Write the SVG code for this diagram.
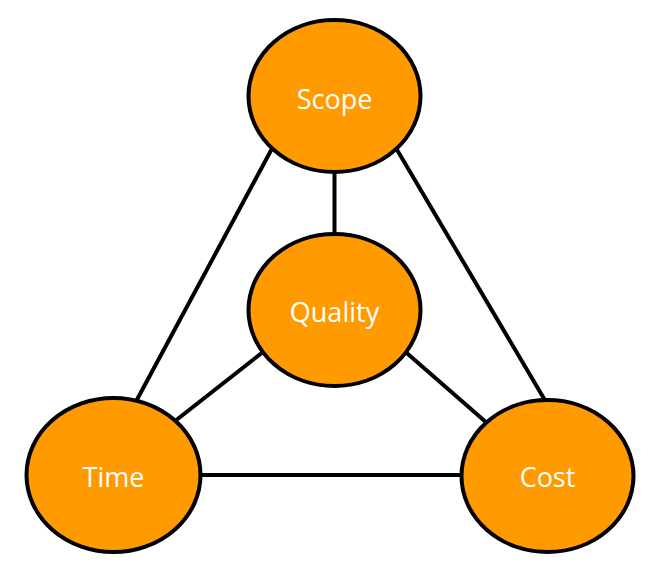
<svg xmlns="http://www.w3.org/2000/svg" width="658" height="569" viewBox="0 0 658 569">
<style>
.n ellipse{fill:#FF9A00;stroke:#000;stroke-width:4}
.n text{fill:#fff;font-family:"Open Sans","Liberation Sans",sans-serif;font-size:27px;text-anchor:middle;dominant-baseline:central}
#edges line{stroke:#000;stroke-width:4}
</style>
<rect width="658" height="569" fill="#fff"/>
<g id="edges">
<line x1="334.5" y1="165" x2="334.5" y2="240"/>
<line x1="275" y1="143" x2="133" y2="407"/>
<line x1="393" y1="143" x2="549" y2="407"/>
<line x1="268" y1="348" x2="170" y2="425"/>
<line x1="401" y1="348" x2="495" y2="430"/>
<line x1="195" y1="475" x2="467" y2="475"/>
</g>
<g id="scope" class="n"><ellipse cx="334.5" cy="96" rx="86" ry="76"/><text x="334.5" y="98">Scope</text></g>
<g id="quality" class="n"><ellipse cx="334.5" cy="310" rx="86" ry="76"/><text x="334.5" y="311">Quality</text></g>
<g id="time" class="n"><ellipse cx="113.5" cy="475" rx="87" ry="77"/><text x="113.5" y="476">Time</text></g>
<g id="cost" class="n"><ellipse cx="547.5" cy="476" rx="86" ry="76"/><text x="547.5" y="476">Cost</text></g>
</svg>
